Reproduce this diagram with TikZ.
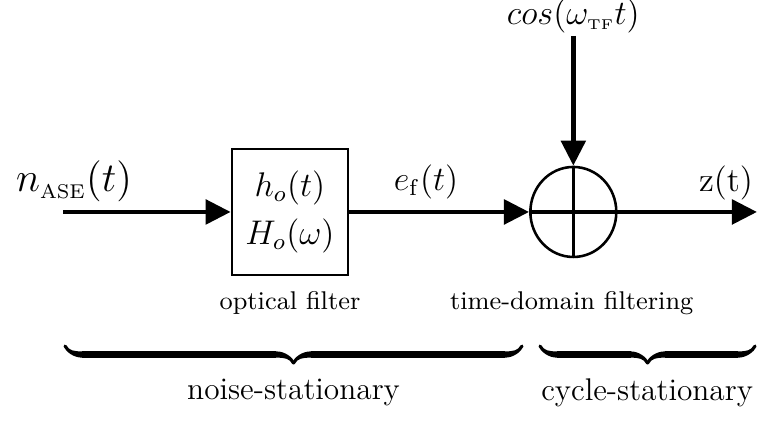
\documentclass[tikz,border=0pt]{standalone}
\usepackage{amsmath}
\usetikzlibrary{arrows.meta,shapes.geometric,decorations.pathreplacing,calligraphy}

\begin{document}
\begin{tikzpicture}[
    sig/.style={line width=1.7pt,-{Triangle[length=8.8pt,width=8.5pt]}},
    lbl/.style={font=\large},
    capt/.style={font=\small},
    part/.style={font=\fontsize{11}{13}\selectfont},
    brc/.style={decorate,decoration={calligraphic brace,amplitude=0.21cm,mirror},line width=2.2pt}]
  \useasboundingbox (0,0) rectangle (9.335,5.241);

  % input signal
  \coordinate (in) at (0.777,2.627);
  \node[font=\Large] (nase) at (0.913,3.0) {$n_{\text{\scriptsize ASE}}(t)$};

  % --- optical filter block ---
  \node[draw,line width=0.9pt,minimum width=1.431cm,minimum height=1.554cm,
    align=center,lbl] (filt) at (3.576,2.627) {$h_o(t)$\\[3pt]$H_o(\omega)$};
  \node[capt] (filtcap) at (3.576,1.50) {optical filter};
  \node[lbl] (ef) at (5.254,3.0) {$e_{\mathrm{f}}(t)$};

  % --- time-domain filtering (adder) ---
  \node[draw,ellipse,line width=0.9pt,minimum width=1.06cm,minimum height=1.11cm,
    inner sep=0pt] (sum) at (7.07,2.627) {};
  \draw[line width=0.9pt] (sum.north) -- (sum.south);
  \draw[line width=1.2pt] (sum.west) -- (sum.east);
  \node[capt] (sumcap) at (7.05,1.50) {time-domain filtering};
  \node[lbl,inner sep=1pt] (cosin) at (7.07,5.05) {$cos(\omega_{\text{\tiny TF}}t)$};

  % output
  \coordinate (out) at (9.335,2.627);
  \node[lbl] (zt) at (8.953,2.99) {z(t)};

  % signal path
  \draw[sig] (in) -- (filt.west);
  \draw[sig] (filt.east) -- (sum.west);
  \draw[sig] (sum.east) -- (out);
  \draw[sig] (cosin.south -| sum.north) -- (sum.north);

  % braces
  \coordinate (b1l) at (0.802,0.974);
  \coordinate (b1r) at (6.437,0.974);
  \coordinate (b2l) at (6.659,0.974);
  \coordinate (b2r) at (9.311,0.974);
  \draw[brc] (b1l) -- (b1r);
  \draw[brc] (b2l) -- (b2r);
  \node[part] (nstat) at (3.62,0.40) {noise-stationary};
  \node[part] (cstat) at (7.98,0.40) {cycle-stationary};
\end{tikzpicture}
\end{document}
